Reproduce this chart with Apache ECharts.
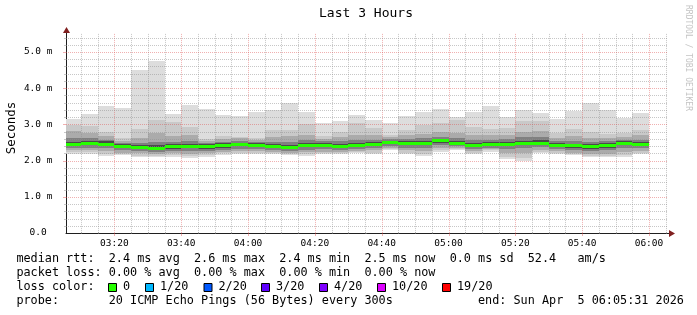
<!DOCTYPE html>
<html><head><meta charset="utf-8">
<script src="https://cdn.jsdelivr.net/npm/echarts@6/dist/echarts.min.js"></script>
<style>html,body{margin:0;padding:0;background:#fff}#c{width:697px;height:315px}</style>
</head><body><div id="c"></div>
<script>
// ---------- data ----------
const axisStart = '03:05:31';
const axisEnd = '06:05:31';
const stepMinutes = 5;
const barTimes = ['03:10','03:15','03:20','03:25','03:30','03:35','03:40','03:45','03:50','03:55',
  '04:00','04:05','04:10','04:15','04:20','04:25','04:30','04:35','04:40','04:45',
  '04:50','04:55','05:00','05:05','05:10','05:15','05:20','05:25','05:30','05:35',
  '05:40','05:45','05:50','05:55','06:00'];
const xTickLabels = ['03:20','03:40','04:00','04:20','04:40','05:00','05:20','05:40','06:00'];
const yTickLabels = ['0.0','1.0 m','2.0 m','3.0 m','4.0 m','5.0 m'];
// values in milliseconds
const medianRtt = [2.46,2.49,2.47,2.40,2.38,2.36,2.39,2.40,2.39,2.42,2.45,2.44,2.40,2.38,2.43,2.43,2.41,2.44,2.46,2.51,2.49,2.49,2.56,2.50,2.43,2.46,2.46,2.50,2.50,2.44,2.42,2.39,2.42,2.48,2.46];
const maxRtt = [3.15,3.29,3.52,3.45,4.51,4.76,3.29,3.54,3.42,3.26,3.22,3.34,3.39,3.59,3.34,3.04,3.09,3.26,3.12,3.04,3.22,3.34,3.42,3.21,3.34,3.51,3.20,3.40,3.31,3.16,3.38,3.59,3.40,3.18,3.31];
const high2 = [2.98,2.96,2.80,2.62,2.87,3.12,3.06,2.94,2.60,2.68,2.66,2.62,2.84,2.85,3.01,2.68,2.78,3.04,2.91,2.71,2.85,2.98,3.03,3.12,2.94,2.86,2.89,3.09,3.09,2.75,2.87,2.78,2.73,2.77,2.85];
const high3 = [2.82,2.77,2.68,2.55,2.62,2.75,2.68,2.72,2.55,2.60,2.62,2.56,2.66,2.68,2.72,2.60,2.66,2.70,2.72,2.65,2.70,2.74,2.78,2.76,2.72,2.70,2.70,2.80,2.82,2.62,2.68,2.62,2.62,2.65,2.70];
const high4 = [2.62,2.62,2.58,2.50,2.50,2.52,2.52,2.54,2.49,2.52,2.55,2.52,2.52,2.52,2.56,2.53,2.53,2.56,2.58,2.60,2.60,2.62,2.66,2.62,2.58,2.58,2.60,2.64,2.64,2.54,2.55,2.52,2.54,2.58,2.58];
const high5 = [2.52,2.54,2.53,2.46,2.44,2.43,2.45,2.46,2.45,2.48,2.50,2.49,2.46,2.44,2.49,2.48,2.47,2.50,2.52,2.55,2.54,2.55,2.61,2.55,2.49,2.51,2.52,2.55,2.56,2.49,2.47,2.45,2.48,2.53,2.51];
const low5 = [2.40,2.43,2.41,2.34,2.32,2.30,2.33,2.34,2.33,2.36,2.39,2.38,2.34,2.32,2.37,2.37,2.35,2.38,2.40,2.45,2.43,2.43,2.50,2.44,2.37,2.40,2.40,2.44,2.44,2.38,2.36,2.33,2.36,2.42,2.40];
const low4 = [2.34,2.36,2.34,2.28,2.26,2.24,2.27,2.27,2.27,2.30,2.33,2.32,2.28,2.26,2.30,2.31,2.29,2.32,2.34,2.40,2.36,2.36,2.44,2.39,2.31,2.35,2.32,2.36,2.37,2.32,2.29,2.26,2.28,2.34,2.34];
const low3 = [2.28,2.30,2.26,2.22,2.20,2.19,2.21,2.19,2.21,2.25,2.27,2.26,2.24,2.21,2.23,2.25,2.24,2.27,2.28,2.35,2.28,2.27,2.35,2.35,2.26,2.31,2.22,2.22,2.29,2.26,2.22,2.19,2.19,2.24,2.27];
const low2 = [2.23,2.24,2.19,2.18,2.14,2.14,2.15,2.12,2.15,2.20,2.22,2.22,2.21,2.19,2.18,2.21,2.21,2.23,2.22,2.32,2.22,2.19,2.29,2.32,2.21,2.28,2.11,2.08,2.24,2.21,2.18,2.14,2.13,2.15,2.22];
const minRtt = [2.18,2.19,2.14,2.15,2.10,2.10,2.11,2.08,2.11,2.16,2.18,2.18,2.18,2.16,2.14,2.17,2.18,2.20,2.18,2.29,2.18,2.14,2.25,2.29,2.18,2.25,2.04,1.99,2.20,2.18,2.15,2.11,2.09,2.09,2.18];
const lossLabels = ['0','1/20','2/20','3/20','4/20','10/20','19/20'];
const lossColors = ['#26ff00','#00b8ff','#0059ff','#5e00ff','#7e00ff','#dd00ff','#ff0000'];
const statLine1 = 'median rtt:  2.4 ms avg  2.6 ms max  2.4 ms min  2.5 ms now  0.0 ms sd  52.4   am/s';
const statLine2 = 'packet loss: 0.00 % avg  0.00 % max  0.00 % min  0.00 % now';
const probeText = 'probe:       20 ICMP Echo Pings (56 Bytes) every 300s';
const endText = 'end: Sun Apr  5 06:05:31 2026';
const yMax = 5.5;

// ---------- helpers ----------
function toMin(s){ const p = s.split(':').map(Number); return p[0]*60 + p[1] + (p[2]||0)/60; }
function toHHMM(v){ const m = Math.round(v); const h = Math.floor(m/60), mm = m%60; return String(h).padStart(2,'0')+':'+String(mm).padStart(2,'0'); }
const xMin = toMin(axisStart), xMax = toMin(axisEnd);
const tEnds = barTimes.map(toMin);
const MONO = 'DejaVu Sans Mono';
const GRID_C = 'rgba(143,143,143,0.5)';
const MGRID_C = 'rgba(222,79,79,0.45)';
const ARROW_C = '#801f1f';
const AXIS_C = '#1f1f1f';

function layer(lo, hi){ return tEnds.map((t,i)=>[t, lo[i], hi[i]]); }
function smokeRender(color){
  return function(params, api){
    const t = api.value(0), lo = api.value(1), hi = api.value(2);
    const cs = params.coordSys;
    const a = api.coord([t - stepMinutes, hi]);
    const b = api.coord([t, lo]);
    let x1 = Math.round(Math.max(a[0], cs.x)), x2 = Math.round(Math.min(b[0], cs.x + cs.width));
    let y1 = Math.round(a[1]), y2 = Math.round(b[1]);
    if (y2 - y1 < 1) y2 = y1 + 1;
    if (x2 <= x1) return null;
    return {type:'rect', shape:{x:x1, y:y1, width:x2-x1, height:y2-y1}, style:{fill: color}};
  };
}
function medianRender(params, api){
  const t = api.value(0), m = api.value(1);
  const cs = params.coordSys;
  const a = api.coord([t - stepMinutes, m]);
  const b = api.coord([t, m]);
  const x1 = Math.round(Math.max(a[0], cs.x)), x2 = Math.round(Math.min(b[0], cs.x + cs.width));
  const y = Math.round(a[1]);
  return {type:'rect', shape:{x:x1, y:y-1, width:x2-x1, height:3}, style:{fill: lossColors[0]}};
}
// grid line positions (styling only)
const vGrid = [];
for (let t = Math.ceil(xMin/5)*5; t <= xMax; t += 5) vGrid.push([t, t % 20 === 0 ? 1 : 0]);
const hGrid = [];
for (let k = 1; k * 0.2 <= yMax + 1e-9; k++) { const v = Math.round(k*2)/10; hGrid.push([v, Math.abs(v - Math.round(v)) < 1e-9 ? 1 : 0]); }

function vGridRender(params, api){
  const t = api.value(0), major = api.value(1);
  const cs = params.coordSys;
  const x = Math.round(api.coord([t, 0])[0]) + 0.5;
  const c = major ? MGRID_C : GRID_C;
  const ch = [{type:'line', shape:{x1:x, y1:cs.y, x2:x, y2:cs.y+cs.height}, style:{stroke:c, lineWidth:1, lineDash:[1,1]}}];
  if (major) ch.push({type:'line', shape:{x1:x, y1:cs.y+cs.height, x2:x, y2:cs.y+cs.height+3}, style:{stroke:c, lineWidth:1}});
  else ch.push({type:'line', shape:{x1:x, y1:cs.y+cs.height-1, x2:x, y2:cs.y+cs.height+1}, style:{stroke:GRID_C, lineWidth:1}});
  return {type:'group', children: ch};
}
function hGridRender(params, api){
  const v = api.value(0), major = api.value(1);
  const cs = params.coordSys;
  const y = Math.round(api.coord([xMin, v])[1]) + 0.5;
  const c = major ? MGRID_C : GRID_C;
  const ch = [{type:'line', shape:{x1:cs.x, y1:y, x2:cs.x+cs.width, y2:y}, style:{stroke:c, lineWidth:1, lineDash:[1,1]}}];
  ch.push({type:'line', shape:{x1:cs.x-(major?3:2), y1:y, x2:cs.x, y2:y}, style:{stroke:c, lineWidth:1}});
  return {type:'group', children: ch};
}

const smokeLayers = [
  ['#dddddd', layer(minRtt, maxRtt)],
  ['#c9c9c9', layer(low2, high2)],
  ['#ababab', layer(low3, high3)],
  ['#808080', layer(low4, high4)],
  ['#4a4a4a', layer(low5, high5)]
];
const series = smokeLayers.map(([c, d]) => ({
  type:'custom', renderItem: smokeRender(c), data: d, encode:{x:0, y:[1,2]}, z:1, silent:true, animation:false
}));
series.push({type:'custom', renderItem: vGridRender, data: vGrid, encode:{x:0}, z:3, silent:true, animation:false});
series.push({type:'custom', renderItem: hGridRender, data: hGrid, encode:{y:0}, z:3, silent:true, animation:false});
series.push({type:'custom', renderItem: medianRender, data: tEnds.map((t,i)=>[t, medianRtt[i]]), encode:{x:0, y:1}, z:4, silent:true, animation:false});

// graphic decorations & texts
const graphics = [];
function txt(x, y, s, opt){ graphics.push({type:'text', x:x, y:y, silent:true, style:Object.assign({text:s, fill:'#000', font:'11.8px "'+MONO+'"', textAlign:'left', textVerticalAlign:'middle'}, opt||{})}); }
txt(366, 14, 'Last 3 Hours', {font:'13px "'+MONO+'"', textAlign:'center'});
graphics.push({type:'text', x:12, y:128, rotation:Math.PI/2, silent:true, style:{text:'Seconds', fill:'#000', font:'12.5px "'+MONO+'"', textAlign:'center', textVerticalAlign:'middle'}});
graphics.push({type:'text', x:688, y:5, rotation:-Math.PI/2, silent:true, style:{text:'RRDTOOL / TOBI OETIKER', fill:'#c4c4c4', font:'8px "'+MONO+'"', textAlign:'left', textVerticalAlign:'middle'}});
txt(16.4, 259, statLine1);
txt(16.4, 273, statLine2);
txt(16.4, 287, 'loss color:');
const boxX = [108, 145, 203.5, 261, 319, 377, 442];
lossLabels.forEach((l, i) => {
  graphics.push({type:'rect', silent:true, shape:{x:boxX[i]+0.5, y:283.5, width:8, height:8}, style:{fill:lossColors[i], stroke:'#000', lineWidth:1}});
  txt(boxX[i]+15, 287, l);
});
txt(16.4, 301, probeText);
txt(478, 301, endText);
// axis extensions + arrows
graphics.push({type:'line', silent:true, shape:{x1:667, y1:233.5, x2:670, y2:233.5}, style:{stroke:AXIS_C, lineWidth:1}});
graphics.push({type:'polygon', silent:true, shape:{points:[[669,230],[675,233.5],[669,237]]}, style:{fill:ARROW_C}});
graphics.push({type:'line', silent:true, shape:{x1:66.5, y1:34, x2:66.5, y2:32}, style:{stroke:AXIS_C, lineWidth:1}});
graphics.push({type:'polygon', silent:true, shape:{points:[[63,33],[66.5,27],[70,33]]}, style:{fill:ARROW_C}});

const chart = echarts.init(document.getElementById('c'), null, {renderer:'canvas'});
chart.setOption({
  animation:false,
  backgroundColor:'#ffffff',
  grid:{left:66, right:29.6, top:233 - yMax*36.2, bottom:82, containLabel:false},
  xAxis:{type:'value', min:xMin, max:xMax, splitLine:{show:false}, axisTick:{show:false},
    axisLine:{show:true, onZero:false, lineStyle:{color:AXIS_C, width:1}},
    axisLabel:{customValues: xTickLabels.map(toMin), formatter: v => toHHMM(v), fontFamily:MONO, fontSize:9.5, color:'#000', margin:6}},
  yAxis:{type:'value', min:0, max:yMax, interval:1, splitLine:{show:false}, axisTick:{show:false},
    axisLine:{show:true, lineStyle:{color:AXIS_C, width:1}},
    axisLabel:{showMaxLabel:false, formatter: v => { const s = yTickLabels[Math.round(v)]; if (s === undefined || Math.abs(v-Math.round(v))>1e-9) return ''; return s.indexOf(' ')<0 ? s + ' ' : s; }, fontFamily:MONO, fontSize:9.5, color:'#000', margin:13.5}},
  series: series,
  graphic: graphics
});
</script></body></html>
